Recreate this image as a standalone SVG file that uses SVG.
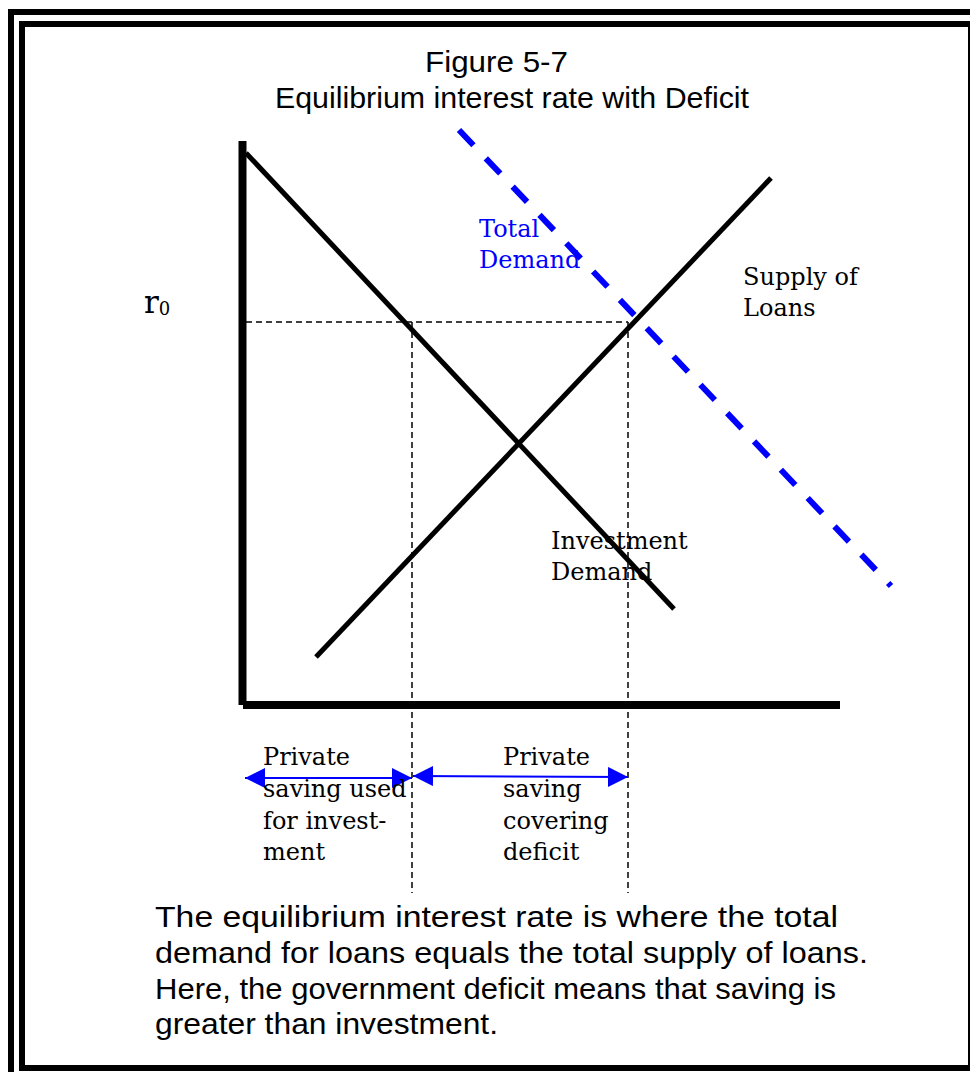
<svg xmlns="http://www.w3.org/2000/svg" width="970" height="1072" viewBox="0 0 970 1072">
<style>
.frame{fill:none;stroke:#000;stroke-width:6}
.axis{stroke:#000;stroke-width:8;fill:none}
.curve{stroke:#000;stroke-width:5;fill:none;stroke-linecap:butt}
.guide{stroke:#000;stroke-width:1.5;stroke-dasharray:6 4;fill:none}
.total{stroke:#0000ff;stroke-width:6;stroke-dasharray:21 18;fill:none}
.arr{stroke:#0000ff;stroke-width:2;fill:none}
.sans{font-family:"Liberation Sans",Arial,sans-serif;fill:#000}
.serif{font-family:"DejaVu Serif","Liberation Serif",serif;font-size:24px;fill:#000}
.blue{fill:#0000ff}
</style>
<defs>
<marker id="ah" markerUnits="userSpaceOnUse" markerWidth="20" markerHeight="20" refX="20" refY="10" orient="auto-start-reverse" viewBox="0 0 20 20">
<path d="M0,0 L20,10 L0,20 Z" fill="#0000ff"/>
</marker>
</defs>
<rect width="970" height="1072" fill="#fff"/>
<g id="frame">
<rect class="frame" x="11" y="12" width="975" height="1075"/>
<rect class="frame" x="22" y="24" width="949" height="1044"/>
</g>
<g id="title">
<text class="sans" x="425" y="72" font-size="30" textLength="143" lengthAdjust="spacingAndGlyphs">Figure 5-7</text>
<text class="sans" x="275" y="108" font-size="30" textLength="474" lengthAdjust="spacingAndGlyphs">Equilibrium interest rate with Deficit</text>
</g>
<g id="axes">
<line class="axis" x1="242.5" y1="141" x2="242.5" y2="705"/>
<line class="axis" x1="243" y1="705" x2="840" y2="705"/>
</g>
<g id="connectors">
<line class="guide" x1="246" y1="322" x2="628" y2="322"/>
<line class="guide" x1="412" y1="322" x2="412" y2="893"/>
<line class="guide" x1="628" y1="322" x2="628" y2="893"/>
<line class="arr" x1="245" y1="778" x2="412" y2="778" marker-start="url(#ah)" marker-end="url(#ah)"/>
<line class="arr" x1="413" y1="776" x2="628" y2="777" marker-start="url(#ah)" marker-end="url(#ah)"/>
</g>
<g id="investment-demand">
<line class="curve" x1="246" y1="153" x2="674" y2="609"/>
<text class="serif" x="551" y="549">Investment</text>
<text class="serif" x="551" y="580">Demand</text>
</g>
<g id="supply-of-loans">
<line class="curve" x1="316" y1="657" x2="771" y2="178"/>
<text class="serif" x="743" y="285">Supply of</text>
<text class="serif" x="743" y="316">Loans</text>
</g>
<g id="total-demand">
<line class="total" x1="459" y1="130" x2="891" y2="586"/>
<text class="serif blue" x="479" y="237">Total</text>
<text class="serif blue" x="479" y="268">Demand</text>
</g>
<g id="r0">
<text class="serif" x="144" y="313" style="font-size:31px">r<tspan style="font-size:18px" dy="2">0</tspan></text>
</g>
<g id="private-investment">
<text class="serif" x="263" y="765">Private</text>
<text class="serif" x="263" y="797">saving used</text>
<text class="serif" x="263" y="829">for invest-</text>
<text class="serif" x="263" y="860">ment</text>
</g>
<g id="private-deficit">
<text class="serif" x="503" y="765">Private</text>
<text class="serif" x="503" y="797">saving</text>
<text class="serif" x="503" y="829">covering</text>
<text class="serif" x="503" y="860">deficit</text>
</g>
<g id="caption">
<text class="sans" x="155" y="927" font-size="30" textLength="683" lengthAdjust="spacingAndGlyphs">The equilibrium interest rate is where the total</text>
<text class="sans" x="155" y="963" font-size="30" textLength="713" lengthAdjust="spacingAndGlyphs">demand for loans equals the total supply of loans.</text>
<text class="sans" x="155" y="999" font-size="30" textLength="681" lengthAdjust="spacingAndGlyphs">Here, the government deficit means that saving is</text>
<text class="sans" x="155" y="1034" font-size="30" textLength="343" lengthAdjust="spacingAndGlyphs">greater than investment.</text>
</g>
</svg>
